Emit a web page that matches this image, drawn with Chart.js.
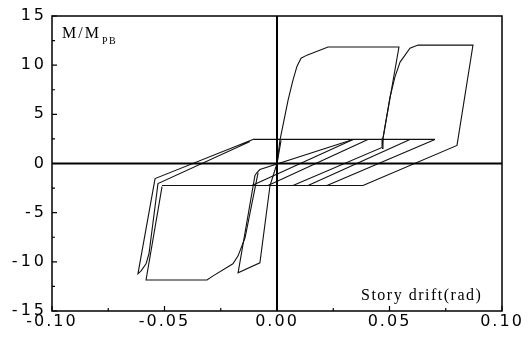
<!DOCTYPE html>
<html>
<head>
<meta charset="utf-8">
<script src="https://cdn.jsdelivr.net/npm/chart.js@4"></script>
<style>
  html, body { margin: 0; padding: 0; background: #fff; }
</style>
</head>
<body>
<canvas id="chart" width="528" height="338"></canvas>
<script>
// axis ticks
const xTicks = [-0.10, -0.05, 0.00, 0.05, 0.10];
const yTicks = [-15, -10, -5, 0, 5, 10, 15];
const xMinorTicks = [-0.075, -0.025, 0.025, 0.075];
const yMinorTicks = [-12.5, -7.5, -2.5, 2.5, 7.5, 12.5];

// first large positive cycle
const pos1X = [0, 0.0013, 0.0031, 0.0049, 0.0071, 0.0089, 0.0107, 0.0133, 0.0227, 0.0542, 0.0471, 0.0467, 0.0071];
const pos1Y = [0, 2.35, 4.39, 6.43, 8.47, 9.9, 10.71, 11.02, 11.84, 11.84, 2.55, 1.63, -2.24];

// second large positive cycle
const pos2X = [0.0467, 0.0471, 0.0502, 0.0524, 0.0547, 0.0591, 0.0627, 0.0871, 0.0800, 0.0382];
const pos2Y = [1.53, 2.55, 6.73, 8.78, 10.31, 11.73, 12.04, 12.04, 1.84, -2.24];

// small negative cycle near origin
const neg0X = [0.0338, -0.0076, -0.0089, -0.0098, -0.0173, -0.0076, -0.0031, 0, 0.0018];
const neg0Y = [2.45, -0.61, -0.92, -1.22, -11.12, -10.1, -2.24, 0, 2.35];

// large negative cycle
const neg1X = [-0.0084, -0.0142, -0.0173, -0.0196, -0.0284, -0.0311, -0.0582, -0.0511];
const neg1Y = [-0.92, -7.55, -9.39, -10.2, -11.43, -11.84, -11.84, -2.35];

// outer negative cycle with hook
const neg2X = [-0.0107, -0.0542, -0.0618, -0.0604, -0.0582, -0.0569, -0.0529, -0.0120];
const neg2Y = [2.45, -1.53, -11.22, -10.92, -10.2, -9.18, -2.04, 2.24];

// slip plateaus
const slipTopX = [-0.0107, 0.0702];
const slipTopY = [2.45, 2.45];
const slipBotX = [-0.0511, 0.0382];
const slipBotY = [-2.24, -2.24];

// slip branches between plateaus
const slip1X = [-0.0111, 0.0338];
const slip2X = [-0.0040, 0.0404];
const slip3X = [0.0138, 0.0591];
const slip4X = [0.0222, 0.0702];
const slipY = [-2.24, 2.45];

function pts(xs, ys) {
    return xs.map((x, i) => ({ x: x, y: ys[i] }));
}

const curves = [
    pts(pos1X, pos1Y), pts(pos2X, pos2Y),
    pts(neg0X, neg0Y), pts(neg1X, neg1Y), pts(neg2X, neg2Y),
    pts(slipTopX, slipTopY), pts(slipBotX, slipBotY),
    pts(slip1X, slipY), pts(slip2X, slipY), pts(slip3X, slipY), pts(slip4X, slipY)
];

const framePlugin = {
    id: 'frame',
    beforeDraw(chart) {
        chart.ctx.letterSpacing = '2px';
    },
    afterDraw(chart) {
        const ctx = chart.ctx;
        const a = chart.chartArea;
        const sx = chart.scales.x, sy = chart.scales.y;
        ctx.save();
        ctx.letterSpacing = '0px';
        ctx.strokeStyle = '#000';

        // box
        ctx.lineWidth = 1.5;
        ctx.strokeRect(a.left, a.top, a.right - a.left, a.bottom - a.top);

        // zero lines
        ctx.lineWidth = 2;
        const x0 = sx.getPixelForValue(0), y0 = sy.getPixelForValue(0);
        ctx.beginPath();
        ctx.moveTo(a.left, y0); ctx.lineTo(a.right, y0);
        ctx.moveTo(x0, a.top); ctx.lineTo(x0, a.bottom);
        ctx.stroke();

        // inward ticks
        ctx.lineWidth = 1.2;
        ctx.beginPath();
        xTicks.forEach(v => { const p = sx.getPixelForValue(v); ctx.moveTo(p, a.bottom); ctx.lineTo(p, a.bottom - 5); });
        xMinorTicks.forEach(v => { const p = sx.getPixelForValue(v); ctx.moveTo(p, a.bottom); ctx.lineTo(p, a.bottom - 3); });
        yTicks.forEach(v => { const p = sy.getPixelForValue(v); ctx.moveTo(a.left, p); ctx.lineTo(a.left + 5, p); });
        yMinorTicks.forEach(v => { const p = sy.getPixelForValue(v); ctx.moveTo(a.left, p); ctx.lineTo(a.left + 3, p); });
        ctx.stroke();

        // axis titles
        ctx.fillStyle = '#000';
        ctx.textBaseline = 'alphabetic';
        ctx.textAlign = 'left';
        ctx.font = '16px "Liberation Serif"';
        ctx.letterSpacing = '2px';
        ctx.fillText('M/M', a.left + 10, a.top + 22);
        const w = ctx.measureText('M/M').width;
        ctx.font = '10px "Liberation Serif"';
        ctx.letterSpacing = '1.5px';
        ctx.fillText('PB', a.left + 10 + w + 1, a.top + 28);

        ctx.font = '16px "Liberation Serif"';
        ctx.letterSpacing = '1.5px';
        ctx.fillText('Story drift(rad)', 361, 300);
        ctx.restore();
    }
};

const tickFont = { family: '"DejaVu Sans", sans-serif', size: 16 };

new Chart(document.getElementById('chart'), {
    type: 'scatter',
    data: {
        datasets: curves.map(c => ({
            data: c,
            showLine: true,
            borderColor: '#111',
            borderWidth: 1.1,
            pointRadius: 0,
            tension: 0
        }))
    },
    options: {
        responsive: false,
        animation: false,
        devicePixelRatio: 1,
        layout: { padding: { top: 16, right: 26, left: 0, bottom: 0 } },
        plugins: { legend: { display: false }, tooltip: { enabled: false } },
        scales: {
            x: {
                type: 'linear', min: -0.1, max: 0.1,
                grid: { display: false, drawTicks: false },
                border: { display: false },
                afterBuildTicks: s => { s.ticks = xTicks.map(v => ({ value: v })); },
                afterFit: s => { s.height = 27; },
                ticks: {
                    color: '#000', font: tickFont, padding: 1,
                    maxRotation: 0, autoSkip: false,
                    callback: v => v.toFixed(2)
                }
            },
            y: {
                type: 'linear', min: -15, max: 15,
                grid: { display: false, drawTicks: false },
                border: { display: false },
                afterBuildTicks: s => { s.ticks = yTicks.map(v => ({ value: v })); },
                afterFit: s => {
                    s.width = 52;
                    if (!s._spaced) {
                        // y labels are set a little wider than the x labels
                        const orig = s.drawLabels;
                        s.drawLabels = function (area) {
                            const c = this.ctx;
                            const prev = c.letterSpacing;
                            c.letterSpacing = '3px';
                            orig.call(this, area);
                            c.letterSpacing = prev;
                        };
                        s._spaced = true;
                    }
                },
                ticks: {
                    color: '#000', font: tickFont, padding: 5,
                    autoSkip: false,
                    callback: v => String(v)
                }
            }
        }
    },
    plugins: [framePlugin]
});
</script>
</body>
</html>
